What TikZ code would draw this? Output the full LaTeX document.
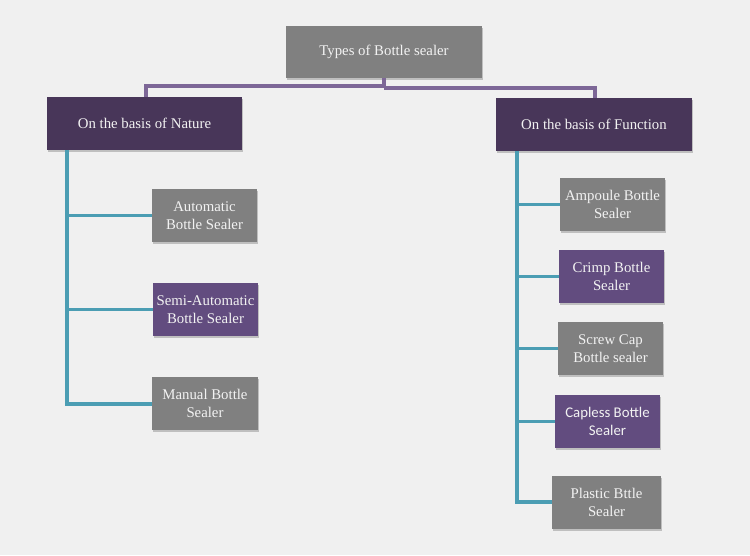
\documentclass[tikz,border=0pt]{standalone}
\usepackage{fontspec}
\setmainfont{Liberation Serif}
\newfontfamily\capfont{Carlito}
\usetikzlibrary{shadows}
\definecolor{bgc}{HTML}{F0F0F0}
\definecolor{grayc}{HTML}{808080}
\definecolor{darkp}{HTML}{483659}
\definecolor{midp}{HTML}{624C7F}
\definecolor{linep}{HTML}{7D6797}
\definecolor{teal}{HTML}{4B9DB3}
\definecolor{txt}{HTML}{F2F2F2}
\tikzset{
  box/.style={draw=none, text=txt, inner sep=0pt, align=center,
    font=\fontsize{14.8}{17.5}\selectfont,
    drop shadow={shadow xshift=1.2pt, shadow yshift=-1.5pt, opacity=0.35, fill=black!60}},
  graybox/.style={box, fill=grayc},
  darkbox/.style={box, fill=darkp},
  midbox/.style={box, fill=midp},
  pline/.style={draw=linep, line width=3.2pt},
  tline/.style={draw=teal, line width=3.2pt},
}
\begin{document}
\begin{tikzpicture}[x=1pt,y=-1pt]
\fill[bgc] (0,0) rectangle (750,555);
\useasboundingbox (0,0) rectangle (750,555);
\coordinate (tl) at (384,86);
\coordinate (tr) at (384,88);
\coordinate (nl) at (146,86);
\coordinate (fr) at (595,88);
\coordinate (lt) at (67,150);
\coordinate (lb) at (67,404);
\coordinate (rt) at (517,151);
\coordinate (rb) at (517,502);
\node[graybox, minimum width=196pt, minimum height=52pt] (top) at (384,52) {Types of Bottle sealer};
\node[darkbox, minimum width=195pt, minimum height=53pt] (nat) at (144.5,123.5) {On the basis of Nature};
\node[darkbox, minimum width=196pt, minimum height=53pt] (fun) at (594,124.5) {On the basis of Function};
\node[graybox, minimum width=105pt, minimum height=53pt] (auto) at (204.5,215.5) {Automatic\\Bottle Sealer};
\node[midbox, minimum width=105pt, minimum height=53pt] (semi) at (205.5,309.5) {Semi-Automatic\\Bottle Sealer};
\node[graybox, minimum width=106pt, minimum height=53pt] (man) at (205,403.5) {Manual Bottle\\Sealer};
\node[graybox, minimum width=105pt, minimum height=53pt] (amp) at (612.5,204.5) {Ampoule Bottle\\Sealer};
\node[midbox, minimum width=105pt, minimum height=53pt] (cri) at (611.5,276.5) {Crimp Bottle\\Sealer};
\node[graybox, minimum width=105pt, minimum height=53pt] (scr) at (610.5,348.5) {Screw Cap\\Bottle sealer};
\node[midbox, minimum width=105pt, minimum height=53pt, font=\capfont\fontsize{14.8}{17.5}\selectfont] (cap) at (607.5,421.5) {Capless Bottle\\Sealer};
\node[graybox, minimum width=109pt, minimum height=53pt] (pla) at (606.5,502.5) {Plastic Bttle\\Sealer};
% purple connector
\draw[pline] (top.south) -- (top.south |- tl) -- (nl) -- (nat.north -| nl);
\draw[pline] (top.south |- tr) -- (fr) -- (fun.north -| fr);
% teal trees
\draw[tline] (lt) -- (lb) -- (man.west |- lb);
\draw[tline] (auto.west -| lt) -- (auto.west);
\draw[tline] (semi.west -| lt) -- (semi.west);
\draw[tline] (rt) -- (rb) -- (pla.west |- rb);
\draw[tline] (amp.west -| rt) -- (amp.west);
\draw[tline] (cri.west -| rt) -- (cri.west);
\draw[tline] (scr.west -| rt) -- (scr.west);
\draw[tline] (cap.west -| rt) -- (cap.west);
\end{tikzpicture}
\end{document}
